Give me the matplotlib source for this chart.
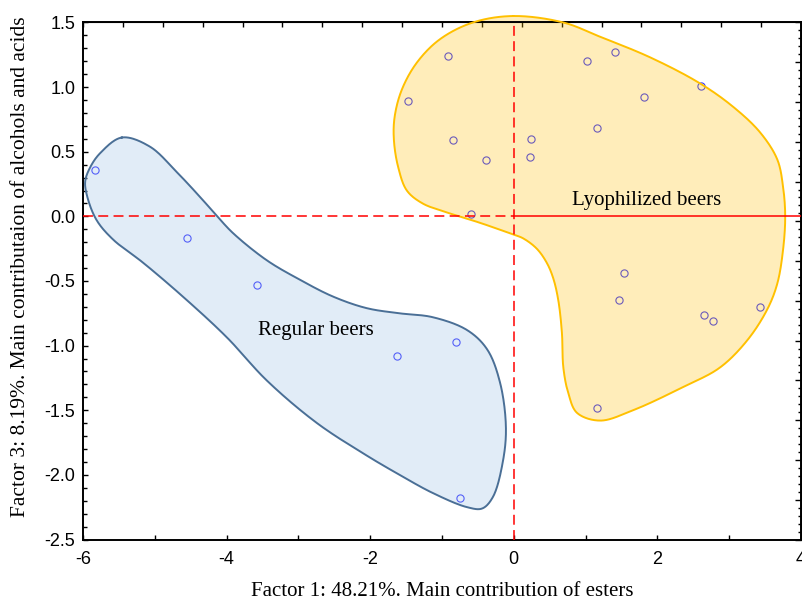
import numpy as np
import matplotlib
matplotlib.use("Agg")
import matplotlib.pyplot as plt
from matplotlib.ticker import MultipleLocator, AutoMinorLocator

plt.rcParams['axes.unicode_minus'] = False

# Scores (Factor 1 vs Factor 3)
regular_x = [-5.83, -4.55, -3.58, -1.63, -0.80, -0.75]
regular_y = [0.36, -0.17, -0.53, -1.08, -0.97, -2.18]

lyo_x = [-0.92, -1.48, -0.85, -0.39, -0.59, 0.24, 0.22, 1.02, 1.41, 1.81,
         1.16, 2.61, 1.53, 1.47, 2.65, 2.78, 3.43, 1.16]
lyo_y = [1.24, 0.89, 0.59, 0.44, 0.02, 0.60, 0.46, 1.20, 1.27, 0.92,
         0.68, 1.01, -0.44, -0.65, -0.76, -0.81, -0.70, -1.48]

# hand-drawn group outlines (data units)
regular_outline_x = [-5.46, -5.07, -4.69, -4.37, -4.13, -3.91, -3.44, -2.98, -2.52, -2.05,
                     -1.59, -1.13, -0.65, -0.37, -0.19, -0.11, -0.15, -0.29, -0.44, -0.65,
                     -1.13, -1.59, -2.05, -2.74, -3.44, -3.99, -4.55, -5.16, -5.58, -5.81,
                     -5.94, -5.97, -5.90, -5.76]
regular_outline_y = [0.61, 0.54, 0.34, 0.15, 0.00, -0.13, -0.34, -0.49, -0.62, -0.71,
                     -0.75, -0.78, -0.88, -1.03, -1.29, -1.63, -1.89, -2.17, -2.26, -2.25,
                     -2.14, -2.00, -1.85, -1.60, -1.27, -0.94, -0.65, -0.36, -0.18, -0.03,
                     0.15, 0.27, 0.38, 0.49]

lyo_outline_x = [-0.01, 0.69, 1.20, 1.90, 2.59, 3.05, 3.43, 3.67, 3.75, 3.78,
                 3.75, 3.67, 3.53, 3.25, 2.87, 2.36, 1.66, 1.20, 0.88, 0.76,
                 0.69, 0.67, 0.62, 0.55, 0.46, 0.32, 0.13, -0.01, -0.47, -0.93,
                 -1.27, -1.49, -1.61, -1.67, -1.66, -1.56, -1.35, -1.03, -0.57]
lyo_outline_y = [1.55, 1.50, 1.39, 1.23, 1.03, 0.85, 0.65, 0.44, 0.23, 0.00,
                 -0.26, -0.52, -0.72, -0.96, -1.17, -1.32, -1.50, -1.58, -1.52, -1.37,
                 -1.17, -0.90, -0.65, -0.48, -0.36, -0.25, -0.17, -0.14, -0.05, 0.03,
                 0.10, 0.20, 0.38, 0.59, 0.77, 0.98, 1.19, 1.37, 1.50]


def smooth_closed(xs, ys, n=24, yscale=1.8):
    # closed centripetal Catmull-Rom through the outline points
    p = np.column_stack([xs, np.asarray(ys) * yscale])
    k = len(p)
    out = []
    for i in range(k):
        P = [p[(i - 1) % k], p[i], p[(i + 1) % k], p[(i + 2) % k]]
        t = [0.0]
        for j in range(3):
            t.append(t[-1] + np.linalg.norm(P[j + 1] - P[j]) ** 0.5)
        tt = np.linspace(t[1], t[2], n, endpoint=False)[:, None]
        A1 = (t[1] - tt) / (t[1] - t[0]) * P[0] + (tt - t[0]) / (t[1] - t[0]) * P[1]
        A2 = (t[2] - tt) / (t[2] - t[1]) * P[1] + (tt - t[1]) / (t[2] - t[1]) * P[2]
        A3 = (t[3] - tt) / (t[3] - t[2]) * P[2] + (tt - t[2]) / (t[3] - t[2]) * P[3]
        B1 = (t[2] - tt) / (t[2] - t[0]) * A1 + (tt - t[0]) / (t[2] - t[0]) * A2
        B2 = (t[3] - tt) / (t[3] - t[1]) * A2 + (tt - t[1]) / (t[3] - t[1]) * A3
        C = (t[2] - tt) / (t[2] - t[1]) * B1 + (tt - t[1]) / (t[2] - t[1]) * B2
        out.append(C)
    out = np.vstack(out)
    out = np.vstack([out, out[:1]])
    out[:, 1] /= yscale
    return out


serif = "Liberation Serif"
sans = "Liberation Sans"

fig = plt.figure(figsize=(8.03, 6.03), dpi=100)
ax = fig.add_axes([0.1034, 0.1053, 0.8941, 0.8574])

ax.plot(regular_x, regular_y, 'o', ms=5.2, mfc='none', mec='#3535ff', mew=0.8, zorder=1)
ax.plot(lyo_x, lyo_y, 'o', ms=5.2, mfc='none', mec='#3535ff', mew=0.8, zorder=1)

blue = smooth_closed(regular_outline_x, regular_outline_y)
ax.fill(blue[:, 0], blue[:, 1], color='#9dc3e6', alpha=0.3, lw=0, zorder=2, clip_on=False)
ax.plot(blue[:, 0], blue[:, 1], color='#4a6f96', lw=1.4, zorder=3, clip_on=False)

yel = smooth_closed(lyo_outline_x, lyo_outline_y)
ax.fill(yel[:, 0], yel[:, 1], color='#ffc000', alpha=0.27, lw=0, zorder=2, clip_on=False)
ax.plot(yel[:, 0], yel[:, 1], color='#ffc000', lw=1.4, zorder=3, clip_on=False)

ax.axvline(0, color='red', lw=1.1, dashes=(6.5, 3.5), zorder=4)
ax.plot([-6, 0], [0, 0], color='red', lw=1.1, dashes=(6.5, 3.5), zorder=4)
ax.plot([0, 4], [0, 0], color='red', lw=1.1, zorder=4)

ax.text(1.855, 0.12, "Lyophilized beers", family=serif, fontsize=15, ha='center', va='center', zorder=5)
ax.text(-2.76, -0.88, "Regular beers", family=serif, fontsize=15, ha='center', va='center', zorder=5)

ax.set_xlim(-6, 4)
ax.set_ylim(-2.5, 1.5)
ax.xaxis.set_major_locator(MultipleLocator(2))
ax.xaxis.set_minor_locator(MultipleLocator(1))
ax.yaxis.set_minor_locator(AutoMinorLocator(5))
yt = np.arange(-2.5, 1.51, 0.5)
ax.set_yticks(yt)
ax.set_yticklabels([f"{v:.1f}" for v in yt])
ax.tick_params(which='both', direction='in', top=False, right=False, labelsize=13, width=1)
ax.tick_params(axis='x', which='both', length=3.5, pad=8)
ax.tick_params(axis='y', which='major', length=3.5, pad=5.5)
ax.tick_params(axis='y', which='minor', length=3)
for lab in ax.get_xticklabels() + ax.get_yticklabels():
    lab.set_family(sans)
for s in ax.spines.values():
    s.set_linewidth(1.4)

top = ax.secondary_xaxis('top')
top.set_xticks(np.linspace(-6, 4, 19))
top.tick_params(direction='in', length=3.5, width=1, labeltop=False)
right = ax.secondary_yaxis('right')
right.set_yticks(np.linspace(-2.5, 1.5, 14))
right.yaxis.set_minor_locator(AutoMinorLocator(5))
right.tick_params(which='both', direction='in', width=1, labelright=False)
right.tick_params(which='major', length=4)
right.tick_params(which='minor', length=2.5)

ax.set_xlabel("Factor 1: 48.21%. Main contribution of esters", family=serif, fontsize=15, labelpad=10)
fig.text(0.025, 0.1426, "Factor 3: 8.19%. Main contributaion of alcohols and acids",
         family=serif, fontsize=15.5, rotation=90, ha='center', va='bottom')

fig.savefig("out.png", dpi=100)
